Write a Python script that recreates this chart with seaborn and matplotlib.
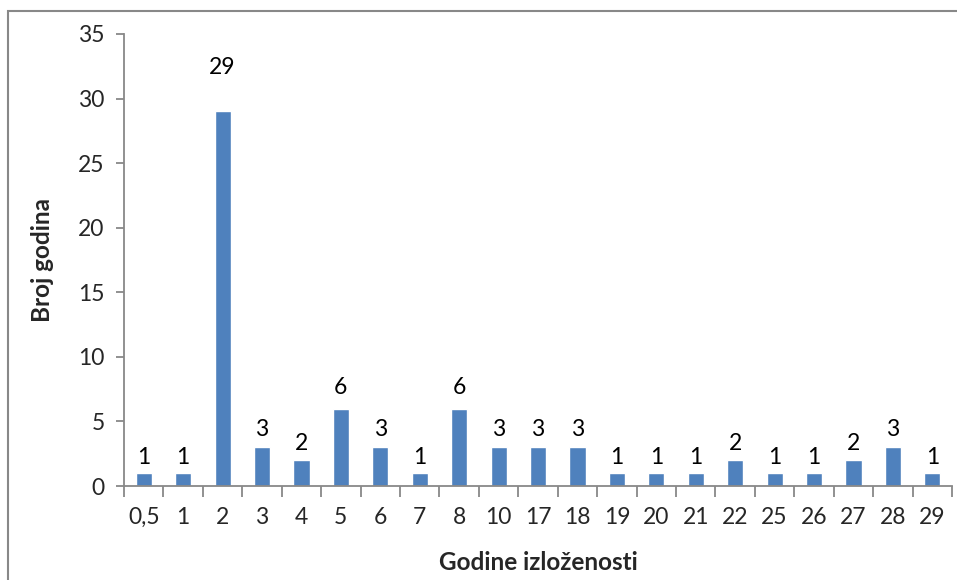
import matplotlib
matplotlib.use("Agg")
import matplotlib.pyplot as plt
import seaborn as sns
import pandas as pd
from matplotlib.patches import Rectangle

# data
categories = ["0,5", "1", "2", "3", "4", "5", "6", "7", "8", "10", "17",
              "18", "19", "20", "21", "22", "25", "26", "27", "28", "29"]
counts = [1, 1, 29, 3, 2, 6, 3, 1, 6, 3, 3, 3, 1, 1, 1, 2, 1, 1, 2, 3, 1]

df = pd.DataFrame({"godine": categories, "broj": counts})

sns.set_theme(style="white")
plt.rcParams["font.family"] = ["Lato", "DejaVu Sans"]

axis_grey = "#888888"
bar_blue = "#4F81BD"
fs = 16.5

fig = plt.figure(figsize=(9.57, 5.80), dpi=100)
ax_pos = [0.1296, 0.162, 0.8652, 0.7794]
ax = fig.add_axes(ax_pos)
ax_w_px = ax_pos[2] * 957
ax_h_px = ax_pos[3] * 580

sns.barplot(data=df, x="godine", y="broj", color=bar_blue, width=0.41,
            saturation=1, ax=ax)

# value labels above each bar (gap grows a little with height, as in the original)
for i, v in enumerate(counts):
    ax.annotate(str(v), (i, v), xytext=(0, (15 + v) * 0.72),
                textcoords="offset points", ha="center", va="center",
                fontsize=fs, color="black")

ax.set_xlim(-0.5, len(categories) - 0.5)
ax.set_ylim(0, 35)
ax.set_yticks(range(0, 36, 5))

# category-boundary tick marks on x, like Excel
ax.set_xticks([i + 0.5 for i in range(-1, len(categories))], minor=False)
ax.set_xticklabels([])
ax.set_xticks(range(len(categories)), minor=True)
ax.set_xticklabels(categories, minor=True)
ax.tick_params(axis="x", which="major", length=8, width=1.3, color=axis_grey,
               direction="out", bottom=True)
ax.tick_params(axis="x", which="minor", length=0, pad=15, labelsize=fs)
ax.tick_params(axis="y", length=6, width=1.3, color=axis_grey, direction="out",
               left=True, labelsize=fs, pad=8)

for side in ["top", "right"]:
    ax.spines[side].set_visible(False)
for side in ["left", "bottom"]:
    ax.spines[side].set_color(axis_grey)
    ax.spines[side].set_linewidth(1.3)

ax.set_xlabel("Godine izloženosti", fontsize=17.5, fontweight="bold", va="center")
ax.set_ylabel("Broj godina", fontsize=17.5, fontweight="bold", va="center")
ax.xaxis.set_label_coords(0.5, -76 / ax_h_px)
ax.yaxis.set_label_coords(-(124 - 42) / ax_w_px, 0.5)

# chart frame (left and top edges visible in the crop)
fig.patches.append(Rectangle((8 / 957, -0.1), 1.2, 1.1 - 11 / 580,
                             transform=fig.transFigure, fill=False,
                             edgecolor=axis_grey, linewidth=1.5))

fig.savefig("out.png", dpi=100)
